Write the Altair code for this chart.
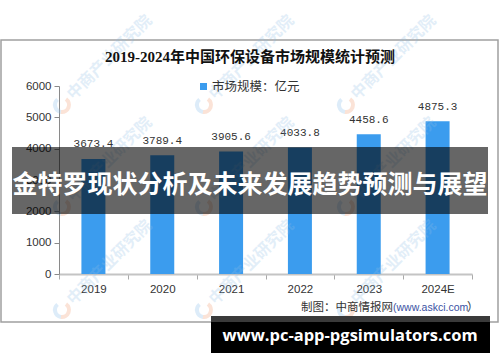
import altair as alt
import pandas as pd

years = ["2019", "2020", "2021", "2022", "2023", "2024E"]
values = [3673.4, 3789.4, 3905.6, 4033.8, 4458.6, 4875.3]
labels = ["3673.4", "3789.4", "3905.6", "4033.8", "4458.6", "4875.3"]
y_ticks = [0, 1000, 2000, 3000, 4000, 5000, 6000]

title_text = "2019-2024年中国环保设备市场规模统计预测"
legend_text = "市场规模：亿元"
source_text = "制图：中商情报网"
source_url = "(www.askci.com"
source_close = "）"
banner_text = "金特罗现状分析及未来发展趋势预测与展望"
site_text = "www.pc-app-pgsimulators.com"
watermark_text = "中商产业研究院"

df = pd.DataFrame({"year": years, "value": values, "label": labels})
one = pd.DataFrame({"k": [0]})

# origin of plot area in page: (59, 86)
OX, OY = 59, 86

# watermark grid (page pixels)
wm_cols = [62, 204, 346]
wm_rows = [105, 207, 310]
wm = pd.DataFrame([{"x": c - OX, "y": r - OY} for c in wm_cols for r in wm_rows])
wm_txt = wm.assign(tx=wm.x + 8, ty=wm.y - 8, t=watermark_text)
arcs = []
for _, row in wm.iterrows():
    arcs.append({"x": row.x, "y": row.y, "t0": 0.6, "t1": 3.3, "c": "#f3a27c"})
    arcs.append({"x": row.x, "y": row.y, "t0": 3.3, "t1": 5.6, "c": "#8fc0ea"})
arc_df = pd.DataFrame(arcs)

x_scale = alt.Scale(paddingInner=0, paddingOuter=0)
y_scale = alt.Scale(domain=[0, 6000], nice=False)

x_enc = alt.X("year:N", sort=years, title=None, scale=x_scale,
              axis=alt.Axis(labelAngle=0, tickBand="extent", tickSize=5, domainColor="#c4c4c4",
                            domainWidth=2, tickColor="#aaaaaa", labelColor="#333333",
                            labelFontSize=11.5, labelFont="Liberation Sans", labelPadding=4))
y_enc = alt.Y("value:Q", title=None, scale=y_scale,
              axis=alt.Axis(values=y_ticks, grid=False, format="d", labelOverlap=False,
                            tickSize=5, domainColor="#8a8a8a", tickColor="#8a8a8a",
                            labelColor="#333333", labelFontSize=11.5, labelFont="Liberation Sans",
                            labelPadding=3))

base = alt.Chart(df)
bars = base.mark_bar(size=24, color="#3b9cee").encode(x=x_enc, y=y_enc)
vals = base.mark_text(dy=-14.5, font="Liberation Mono", fontSize=11, color="#333333").encode(
    x=x_enc, y=y_enc, text="label:N")

def val(v):
    return alt.value(v)

border = alt.Chart(one).mark_rect(fill=None, stroke="#a0a0a0", strokeWidth=1.5).encode(
    x=val(1 - OX), x2=val(498 - OX), y=val(40 - OY), y2=val(322 - OY))

wm_text = alt.Chart(wm_txt).mark_text(angle=315, align="left", baseline="middle",
                                      font="Noto Sans CJK SC", fontSize=16, fontWeight="bold",
                                      color="#8fbde6", opacity=0.25).encode(
    x=alt.X("tx:Q", scale=None), y=alt.Y("ty:Q", scale=None), text="t:N")
wm_logo = alt.Chart(arc_df).mark_arc(radius=9, radius2=5, opacity=0.3).encode(
    x=alt.X("x:Q", scale=None), y=alt.Y("y:Q", scale=None),
    theta=alt.Theta("t0:Q", scale=None), theta2="t1:Q",
    color=alt.Color("c:N", scale=None))

title = alt.Chart(one).mark_text(text=title_text, font="Liberation Serif, Noto Sans CJK SC",
                                 fontSize=15, fontWeight="bold", color="#111111",
                                 align="center", baseline="middle").encode(
    x=val(250 - OX), y=val(57 - OY))
leg_sq = alt.Chart(one).mark_rect(color="#3b9cee").encode(
    x=val(200 - OX), x2=val(207 - OX), y=val(83 - OY), y2=val(90 - OY))
leg_tx = alt.Chart(one).mark_text(text=legend_text, font="Noto Sans CJK SC", fontSize=12.5,
                                  color="#333333", align="left", baseline="middle").encode(
    x=val(212 - OX), y=val(86.5 - OY))

src1 = alt.Chart(one).mark_text(text=source_text, font="Noto Sans CJK SC", fontSize=11.5,
                                color="#333333", align="right", baseline="middle").encode(
    x=val(393 - OX), y=val(308 - OY))
src2 = alt.Chart(one).mark_text(text=source_url, font="Liberation Sans", fontSize=10.5,
                                color="#3a52a3", align="left", baseline="middle").encode(
    x=val(393 - OX), y=val(308 - OY))
src3 = alt.Chart(one).mark_text(text=source_close, font="Noto Sans CJK SC", fontSize=11.5,
                                color="#333333", align="left", baseline="middle").encode(
    x=val(467 - OX), y=val(308 - OY))

overlay = alt.Chart(one).mark_rect(color="#000000", opacity=0.6).encode(
    x=val(12 - OX), x2=val(488 - OX), y=val(147 - OY), y2=val(214 - OY))
banner = alt.Chart(one).mark_text(text=banner_text, font="Noto Sans CJK SC", fontSize=25,
                                  fontWeight="bold", color="#ffffff",
                                  align="center", baseline="middle").encode(
    x=val(250 - OX), y=val(185 - OY))

band_top = alt.Chart(one).mark_rect(color="#3a3a3a").encode(
    x=val(211 - OX), x2=val(490 - OX), y=val(316 - OY), y2=val(322 - OY))
band = alt.Chart(one).mark_rect(color="#000000").encode(
    x=val(211 - OX), x2=val(490 - OX), y=val(322 - OY), y2=val(353 - OY))
site = alt.Chart(one).mark_text(text=site_text, font="Open Sans", fontSize=16.5,
                                fontWeight="bold", color="#ffffff",
                                align="center", baseline="middle").encode(
    x=val(350 - OX), y=val(336 - OY))

chart = alt.layer(
    border, bars, vals, wm_text, wm_logo, title, leg_sq, leg_tx, src1, src2, src3,
    overlay, banner, band_top, band, site
).properties(
    width=500 - OX - 28, height=274 - OY,
    padding={"left": OX, "top": OY, "right": 28, "bottom": 362 - 274},
    autosize=alt.AutoSizeParams(type="none"),
    background="#ffffff",
).configure_view(stroke=None)

chart.save("out.html", embed_options={"renderer": "svg", "actions": False})
